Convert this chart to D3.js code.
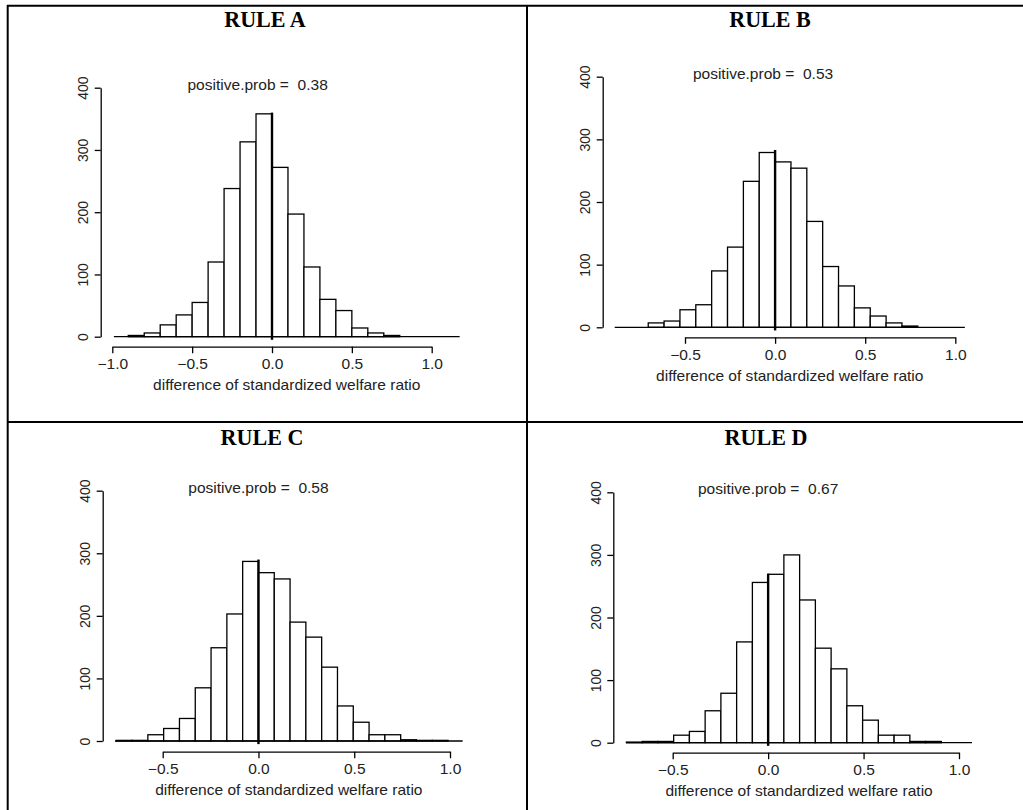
<!DOCTYPE html>
<html>
<head>
<meta charset="utf-8">
<script src="https://cdn.jsdelivr.net/npm/d3@7"></script>
<style>
  body { margin: 0; background: #fff; }
  svg text { font-family: "Liberation Sans", Arial, sans-serif; fill: #222; }
  .rule { font-family: "Liberation Serif", "Times New Roman", serif; font-weight: bold; fill: #000; }
</style>
</head>
<body>
<script>
// panel data
const rules = ["RULE A", "RULE B", "RULE C", "RULE D"]
const positiveProb = ["0.38", "0.53", "0.58", "0.67"]

const breaksA = [-0.9, -0.8, -0.7, -0.6, -0.5, -0.4, -0.3, -0.2, -0.1, 0, 0.1, 0.2, 0.3, 0.4, 0.5, 0.6, 0.7, 0.8]
const countsA = [2, 6, 19, 35, 55, 120, 238, 313, 358, 272, 197, 112, 60, 42, 14, 6, 2]

const breaksB = [-0.704, -0.616, -0.528, -0.44, -0.352, -0.264, -0.176, -0.088, 0, 0.088, 0.176, 0.264, 0.352, 0.44, 0.528, 0.616, 0.704, 0.792]
const countsB = [7, 10, 28, 36, 90, 128, 233, 279, 264, 254, 169, 97, 66, 31, 18, 7, 2]

const breaksC = [-0.7425, -0.66, -0.5775, -0.495, -0.4125, -0.33, -0.2475, -0.165, -0.0825, 0, 0.0825, 0.165, 0.2475, 0.33, 0.4125, 0.495, 0.5775, 0.66, 0.7425, 0.825, 0.9075, 0.99]
const countsC = [1, 1, 10, 20, 36, 85, 149, 203, 287, 269, 259, 190, 166, 118, 56, 30, 10, 10, 2, 1, 1]

const breaksD = [-0.7425, -0.66, -0.5775, -0.495, -0.4125, -0.33, -0.2475, -0.165, -0.0825, 0, 0.0825, 0.165, 0.2475, 0.33, 0.4125, 0.495, 0.5775, 0.66, 0.7425, 0.825, 0.9075]
const countsD = [1, 2, 2, 12, 18, 51, 79, 161, 256, 269, 300, 228, 151, 118, 59, 36, 12, 12, 2, 2]

const zeroLineTop = [360, 283, 290, 270]
const xTicksA = [-1, -0.5, 0, 0.5, 1]
const xTicksBCD = [-0.5, 0, 0.5, 1]
const yTicks = [0, 100, 200, 300, 400]
const plotRanges = [[-0.99, 1.175], [-0.89, 1.053], [-0.749, 1.066], [-0.744, 1.068]]
const titleX = [-0.09, -0.067, 0, 0]

const breaks = [breaksA, breaksB, breaksC, breaksD]
const counts = [countsA, countsB, countsC, countsD]
const xTicks = [xTicksA, xTicksBCD, xTicksBCD, xTicksBCD]

// where each panel sits on the page (pixels)
const frames = [
    { xr: [112.3, 431.7], yr: [336.7, 87.7], yAxisX: 100.7, xAxisY: 346.7, titleCx: 265, titleY: 26.5 },
    { xr: [685, 955.3],   yr: [327.3, 76.7], yAxisX: 602.7, xAxisY: 337.3, titleCx: 770, titleY: 26.5 },
    { xr: [162.7, 450],   yr: [741, 490.7],  yAxisX: 102.7, xAxisY: 751.7, titleCx: 262, titleY: 444.5 },
    { xr: [672.7, 959],   yr: [742.7, 492.3], yAxisX: 613.3, xAxisY: 752.7, titleCx: 766, titleY: 444.5 }
]

const sx = 1.11   // the picture is a bit wider than tall
const lw = 1.3

let svg = d3.select("body").append("svg")
    .attr("width", 1023)
    .attr("height", 810)
    .style("background", "#fff")

// table grid
const grid = [
    [7, 5.8, 1023, 5.8],
    [7.7, 5, 7.7, 810],
    [527, 5, 527, 810],
    [7, 422, 1023, 422]
]
svg.selectAll(".grid").data(grid).enter().append("line")
    .attr("x1", d => d[0]).attr("y1", d => d[1])
    .attr("x2", d => d[2]).attr("y2", d => d[3])
    .attr("stroke", "black")
    .attr("stroke-width", 2)

rules.forEach((rule, i) => {
    let f = frames[i]
    let ticks = xTicks[i]
    let x = d3.scaleLinear().domain([ticks[0], ticks[ticks.length - 1]]).range(f.xr)
    let y = d3.scaleLinear().domain([0, 400]).range(f.yr)
    let g = svg.append("g")

    // cell heading
    svg.append("text")
        .attr("class", "rule")
        .attr("transform", `translate(${f.titleCx},${f.titleY}) scale(0.96,1)`)
        .attr("text-anchor", "middle")
        .style("font-size", "23px")
        .text(rule)

    // bars
    let bins = counts[i].map((c, k) => ({ x0: breaks[i][k], x1: breaks[i][k + 1], n: c }))
    g.selectAll("rect").data(bins).enter().append("rect")
        .attr("x", d => x(d.x0))
        .attr("y", d => y(d.n))
        .attr("width", d => x(d.x1) - x(d.x0))
        .attr("height", d => y(0) - y(d.n))
        .attr("fill", "white")
        .attr("stroke", "black")
        .attr("stroke-width", lw)

    // baseline across the plot region
    g.append("line")
        .attr("x1", x(plotRanges[i][0]))
        .attr("x2", x(plotRanges[i][1]))
        .attr("y1", y(0)).attr("y2", y(0))
        .attr("stroke", "black")
        .attr("stroke-width", lw)

    // line at zero
    g.append("line")
        .attr("x1", x(0)).attr("x2", x(0))
        .attr("y1", y(-5)).attr("y2", y(zeroLineTop[i]))
        .attr("stroke", "black")
        .attr("stroke-width", 2.4)

    // x axis
    let xa = g.append("g")
        .attr("transform", `translate(0,${f.xAxisY})`)
        .call(d3.axisBottom(x).tickValues(ticks).tickFormat(d3.format(".1f")).tickSize(6.5).tickSizeOuter(0))
    xa.select(".domain").attr("stroke-width", lw)
    xa.selectAll(".tick line").attr("stroke-width", lw)
    xa.selectAll(".tick text")
        .attr("y", 22.5).attr("dy", 0)
        .attr("transform", `scale(${sx},1)`)
        .style("font-size", "14px")
        .attr("fill", "#222")

    // y axis
    let ya = g.append("g")
        .attr("transform", `translate(${f.yAxisX},0)`)
        .call(d3.axisLeft(y).tickValues(yTicks).tickSize(6).tickSizeOuter(0))
    ya.select(".domain").attr("stroke-width", lw)
    ya.selectAll(".tick line").attr("stroke-width", lw)
    ya.selectAll(".tick text")
        .attr("x", 0).attr("y", -12.5).attr("dy", 0)
        .attr("transform", "rotate(-90)")
        .attr("text-anchor", "middle")
        .style("font-size", "14px")
        .attr("fill", "#222")

    // axis title, centred on the plot region
    let cx = (x(plotRanges[i][0]) + x(plotRanges[i][1])) / 2
    g.append("text")
        .attr("transform", `translate(${cx},${f.xAxisY + 43.7}) scale(${sx},1)`)
        .attr("text-anchor", "middle")
        .style("font-size", "14px")
        .text("difference of standardized welfare ratio")

    // positive.prob note
    g.append("text")
        .attr("transform", `translate(${x(titleX[i])},${y(400) + 2}) scale(${sx},1)`)
        .attr("text-anchor", "middle")
        .style("font-size", "14px")
        .style("white-space", "pre")
        .text("positive.prob =  " + positiveProb[i])
})
</script>
</body>
</html>
